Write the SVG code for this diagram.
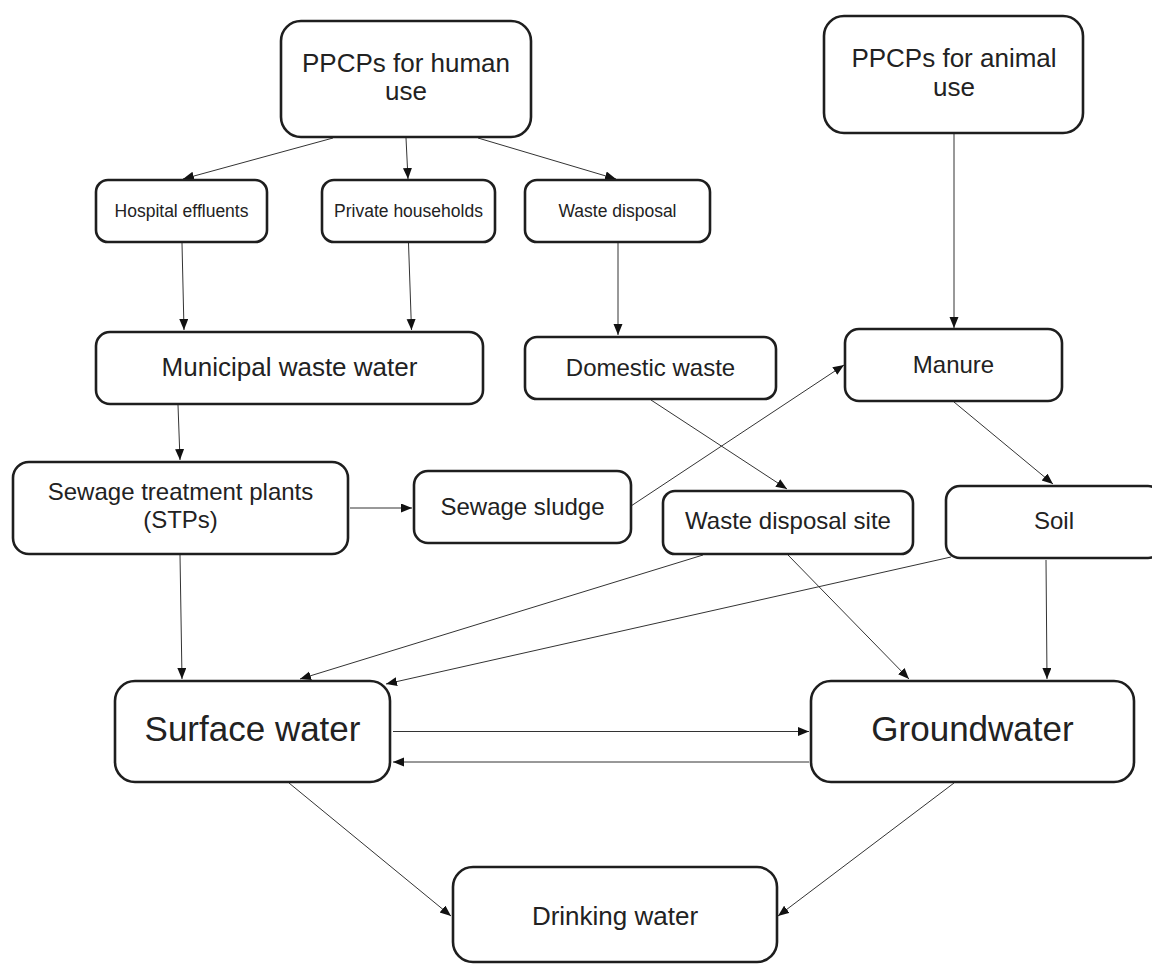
<svg xmlns="http://www.w3.org/2000/svg" width="1152" height="964" viewBox="0 0 1152 964">
<style>
  .box { fill: #ffffff; stroke: #1e1e1e; stroke-width: 2.6; }
  .t { font-family: "Liberation Sans", Arial, sans-serif; fill: #222222; text-anchor: middle; }
  .s17 { font-size: 17.5px; }
  .s24 { font-size: 24px; }
  .s26 { font-size: 26px; }
  .s35 { font-size: 35px; }
  .c { stroke: #333333; stroke-width: 1; fill: none; marker-end: url(#arr); }
</style>
<defs>
  <marker id="arr" markerUnits="userSpaceOnUse" markerWidth="12" markerHeight="10" refX="11" refY="4.5" orient="auto">
    <path d="M0,0 L11,4.5 L0,9 Z" fill="#111111"/>
  </marker>
</defs>
<rect width="1152" height="964" fill="#ffffff"/>

<g id="connectors">
  <line class="c" x1="333" y1="138" x2="183" y2="179"/>
  <line class="c" x1="406" y1="138" x2="408" y2="179"/>
  <line class="c" x1="478" y1="138" x2="616" y2="179"/>
  <line class="c" x1="182" y1="243" x2="184" y2="330"/>
  <line class="c" x1="408.5" y1="243" x2="411.5" y2="330"/>
  <line class="c" x1="618" y1="243" x2="618" y2="335"/>
  <line class="c" x1="954" y1="134" x2="954" y2="328"/>
  <line class="c" x1="178" y1="405" x2="180" y2="460"/>
  <line class="c" x1="350" y1="508" x2="412" y2="508"/>
  <line class="c" x1="631" y1="506" x2="844" y2="365"/>
  <line class="c" x1="651" y1="400" x2="787" y2="489"/>
  <line class="c" x1="954" y1="402" x2="1053" y2="484"/>
  <line class="c" x1="180" y1="555" x2="182" y2="679"/>
  <line class="c" x1="703" y1="555" x2="300" y2="679"/>
  <line class="c" x1="951" y1="557" x2="386" y2="684"/>
  <line class="c" x1="788" y1="555" x2="909" y2="679"/>
  <line class="c" x1="1046" y1="560" x2="1047" y2="679"/>
  <line class="c" x1="393" y1="731.5" x2="809" y2="731.5"/>
  <line class="c" x1="809" y1="762" x2="393" y2="762"/>
  <line class="c" x1="289" y1="783" x2="451" y2="916"/>
  <line class="c" x1="954" y1="783" x2="778" y2="916"/>
</g>

<g id="ppcps-human">
  <rect class="box" x="281" y="21" width="250" height="116" rx="20"/>
  <text class="t s26" x="406" y="72">PPCPs for human</text>
  <text class="t s26" x="406" y="100">use</text>
</g>
<g id="ppcps-animal">
  <rect class="box" x="824" y="16" width="259" height="117" rx="20"/>
  <text class="t s26" x="954" y="67">PPCPs for animal</text>
  <text class="t s26" x="954" y="96">use</text>
</g>
<g id="hospital">
  <rect class="box" x="96" y="180" width="171" height="62" rx="12"/>
  <text class="t s17" x="181.5" y="216.5">Hospital effluents</text>
</g>
<g id="households">
  <rect class="box" x="322" y="180" width="173" height="62" rx="12"/>
  <text class="t s17" x="408.5" y="216.5">Private households</text>
</g>
<g id="waste-disposal">
  <rect class="box" x="525" y="180" width="185" height="62" rx="12"/>
  <text class="t s17" x="617.5" y="216.5">Waste disposal</text>
</g>
<g id="municipal">
  <rect class="box" x="96" y="332" width="387" height="72" rx="14"/>
  <text class="t s26" x="289.5" y="376">Municipal waste water</text>
</g>
<g id="domestic">
  <rect class="box" x="525" y="337" width="251" height="62" rx="12"/>
  <text class="t s24" x="650.5" y="376">Domestic waste</text>
</g>
<g id="manure">
  <rect class="box" x="845" y="329" width="217" height="72" rx="14"/>
  <text class="t s24" x="953.5" y="373">Manure</text>
</g>
<g id="stps">
  <rect class="box" x="13" y="462" width="335" height="92" rx="16"/>
  <text class="t s24" x="180.5" y="500">Sewage treatment plants</text>
  <text class="t s24" x="180.5" y="527.5">(STPs)</text>
</g>
<g id="sludge">
  <rect class="box" x="414" y="471" width="217" height="72" rx="14"/>
  <text class="t s24" x="522.5" y="515">Sewage sludge</text>
</g>
<g id="wds">
  <rect class="box" x="663" y="491" width="250" height="63" rx="12"/>
  <text class="t s24" x="788" y="529">Waste disposal site</text>
</g>
<g id="soil">
  <rect class="box" x="946" y="486" width="216" height="72" rx="14"/>
  <text class="t s24" x="1054" y="529">Soil</text>
</g>
<g id="surface">
  <rect class="box" x="115" y="681" width="275" height="101" rx="20"/>
  <text class="t s35" x="252.5" y="741">Surface water</text>
</g>
<g id="groundwater">
  <rect class="box" x="811" y="681" width="323" height="101" rx="20"/>
  <text class="t s35" x="972.5" y="741">Groundwater</text>
</g>
<g id="drinking">
  <rect class="box" x="453" y="867" width="324" height="95" rx="20"/>
  <text class="t s26" x="615" y="925">Drinking water</text>
</g>
</svg>
